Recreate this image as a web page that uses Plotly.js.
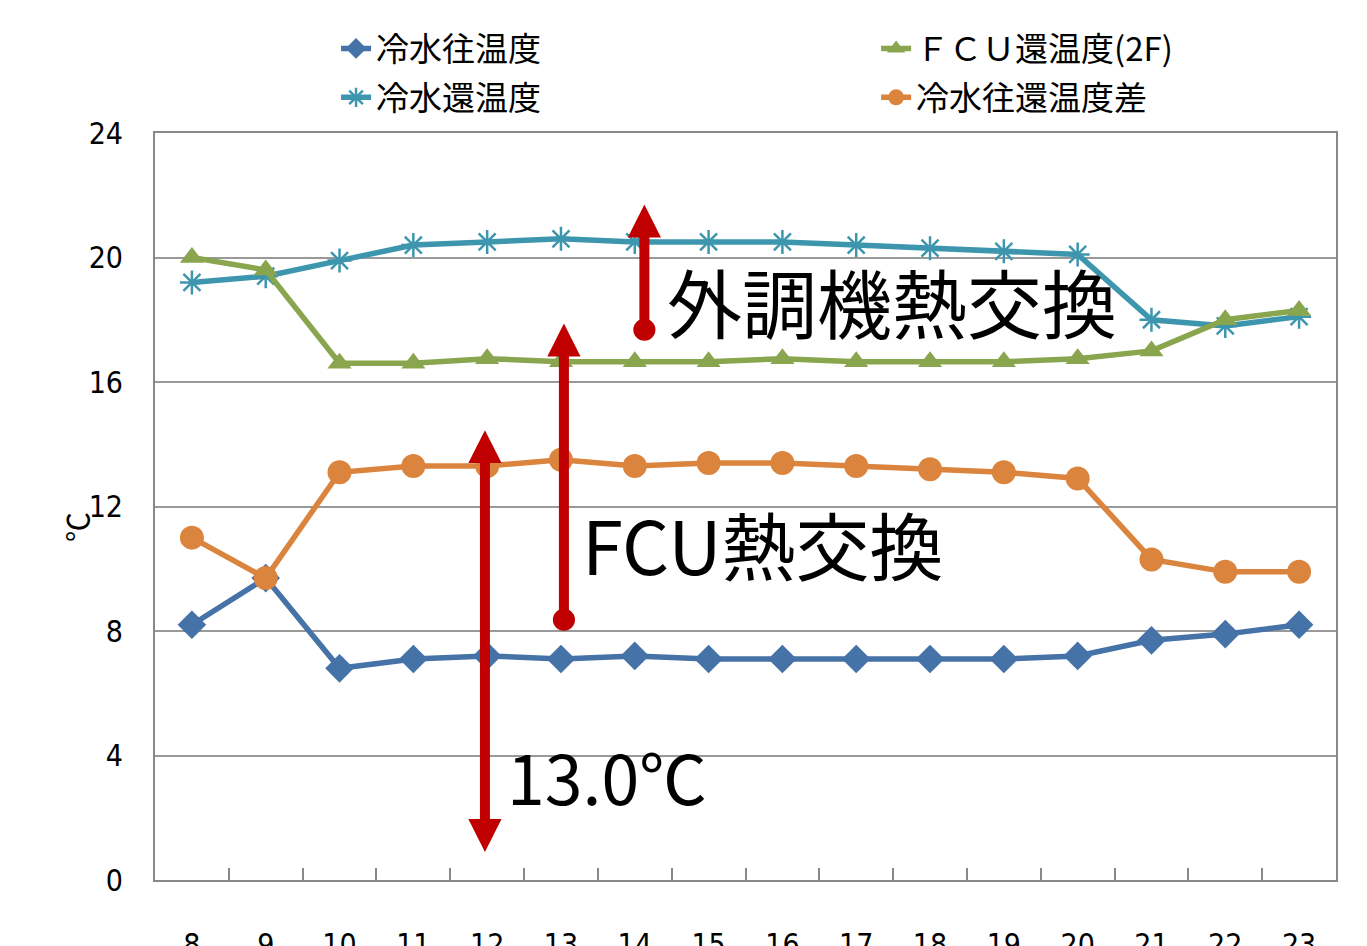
<!DOCTYPE html>
<html>
<head>
<meta charset="utf-8">
<script src="https://cdn.plot.ly/plotly-3.0.1.min.js"></script>
<style>html,body{margin:0;padding:0;background:#fff;}#chart{width:1367px;height:946px;}</style>
</head>
<body>
<div id="chart"></div>
<script>
const hours = ['8','9','10','11','12','13','14','15','16','17','18','19','20','21','22','23'];
const supplyTemp = [8.2, 9.7, 6.8, 7.1, 7.2, 7.1, 7.2, 7.1, 7.1, 7.1, 7.1, 7.1, 7.2, 7.7, 7.9, 8.2];
const returnTemp = [19.2, 19.4, 19.9, 20.4, 20.5, 20.6, 20.5, 20.5, 20.5, 20.4, 20.3, 20.2, 20.1, 18.0, 17.8, 18.1];
const fcuReturnTemp = [20.0, 19.6, 16.6, 16.6, 16.75, 16.65, 16.65, 16.65, 16.75, 16.65, 16.65, 16.65, 16.75, 17.0, 18.0, 18.3];
const tempDiff = [11.0, 9.7, 13.1, 13.3, 13.3, 13.5, 13.3, 13.4, 13.4, 13.3, 13.2, 13.1, 12.9, 10.3, 9.9, 9.9];
const seriesNames = ['冷水往温度', '冷水還温度', 'ＦＣＵ還温度(2F)', '冷水往還温度差'];
const yTicks = [0, 4, 8, 12, 16, 20, 24];

const RED = '#C00000';
const numFont = 'Liberation Sans Narrow, DejaVu Sans Condensed, sans-serif';
const jpFont = 'Noto Sans CJK JP, sans-serif';

const traces = [
  {x: hours, y: supplyTemp, name: seriesNames[0], type: 'scatter', mode: 'lines+markers', legend: 'legend', legendgroup: 'a',
   line: {color: '#4572A7', width: 5.5}, marker: {symbol: 'diamond', size: 22, color: '#4572A7'}},
  {x: hours, y: returnTemp, name: seriesNames[1], type: 'scatter', mode: 'lines+markers', legend: 'legend', legendgroup: 'b',
   line: {color: '#3D96AE', width: 5.5}, marker: {symbol: 'asterisk-open', size: 20, color: '#3D96AE', line: {color: '#3D96AE', width: 2.5}}},
  {x: hours, y: fcuReturnTemp, name: seriesNames[2], type: 'scatter', mode: 'lines+markers', legend: 'legend2', legendgroup: 'c',
   line: {color: '#89A54E', width: 5.5}, marker: {symbol: 'triangle-up', size: 21, color: '#89A54E'}},
  {x: hours, y: tempDiff, name: seriesNames[3], type: 'scatter', mode: 'lines+markers', legend: 'legend2', legendgroup: 'd',
   line: {color: '#DB843D', width: 5.5}, marker: {symbol: 'circle', size: 24, color: '#DB843D'}}
];

// arrow annotations (x in category index units, y in ℃)
function head(x, tipY, baseY) {
  const hw = 0.225;
  return {type: 'path', xref: 'x', yref: 'y', layer: 'above',
    path: `M ${x - hw} ${baseY} L ${x + hw} ${baseY} L ${x} ${tipY} Z`,
    fillcolor: RED, line: {width: 0}};
}
function shaft(x, y0, y1) {
  return {type: 'line', xref: 'x', yref: 'y', layer: 'above', x0: x, x1: x, y0: y0, y1: y1,
    line: {color: RED, width: 10}};
}
function dot(x, y) {
  const rx = 0.15, ry = 0.355;
  return {type: 'circle', xref: 'x', yref: 'y', layer: 'above', x0: x - rx, x1: x + rx, y0: y - ry, y1: y + ry,
    fillcolor: RED, line: {width: 0}};
}
const shapes = [
  shaft(3.97, 1.9, 13.5), head(3.97, 14.45, 13.4), head(3.97, 0.9, 1.96),
  shaft(5.04, 8.36, 16.9), head(5.04, 17.88, 16.82), dot(5.04, 8.36),
  shaft(6.13, 17.68, 20.7), head(6.13, 21.7, 20.64), dot(6.13, 17.68)
];

const annotations = [
  {text: '外調機熱交換', x: 6.41, y: 18.62, xref: 'x', yref: 'y', xanchor: 'left', yanchor: 'middle', showarrow: false,
   font: {family: jpFont, size: 75, color: '#000'}},
  {text: 'FCU熱交換', x: 5.26, y: 10.85, xref: 'x', yref: 'y', xanchor: 'left', yanchor: 'middle', showarrow: false,
   font: {family: jpFont, size: 74, color: '#000'}},
  {text: '13.0℃', x: 4.24, y: 3.35, xref: 'x', yref: 'y', xanchor: 'left', yanchor: 'middle', showarrow: false,
   font: {family: jpFont, size: 68, color: '#000'}},
  {text: '℃', x: -0.0669, y: 0.4726, xref: 'paper', yref: 'paper', xanchor: 'center', yanchor: 'middle', showarrow: false,
   textangle: -90, font: {family: jpFont, size: 30, color: '#000'}}
];

const legendCommon = {orientation: 'v', yanchor: 'top', xanchor: 'left', tracegroupgap: 3, traceorder: 'grouped',
  font: {family: jpFont, size: 33, color: '#000'}, bgcolor: 'rgba(0,0,0,0)', borderwidth: 0};

const layout = {
  width: 1367, height: 946,
  margin: {l: 155, r: 31, t: 133, b: 66},
  paper_bgcolor: '#fff', plot_bgcolor: '#fff',
  showlegend: true,
  legend: Object.assign({}, legendCommon, {x: 0.1533, y: 1.1506}),
  legend2: Object.assign({}, legendCommon, {x: 0.6106, y: 1.1506}),
  xaxis: {type: 'category', range: [-0.5, 15.5], showline: true, linecolor: '#888', linewidth: 2, mirror: true,
    showgrid: false, ticks: 'inside', tickson: 'boundaries', ticklen: 12, tickwidth: 2, tickcolor: '#888',
    ticklabelstandoff: 37, tickfont: {family: numFont, size: 30, color: '#000'}, zeroline: false, fixedrange: true},
  yaxis: {range: [0, 24], tickvals: yTicks, showline: true, linecolor: '#888', linewidth: 2, mirror: true,
    showgrid: true, gridcolor: '#999', gridwidth: 2, ticks: '', zeroline: false,
    ticklabelstandoff: 24, tickfont: {family: numFont, size: 30, color: '#000'}},
  shapes: shapes,
  annotations: annotations
};

Plotly.newPlot('chart', traces, layout, {displayModeBar: false, staticPlot: true});
</script>
</body>
</html>
